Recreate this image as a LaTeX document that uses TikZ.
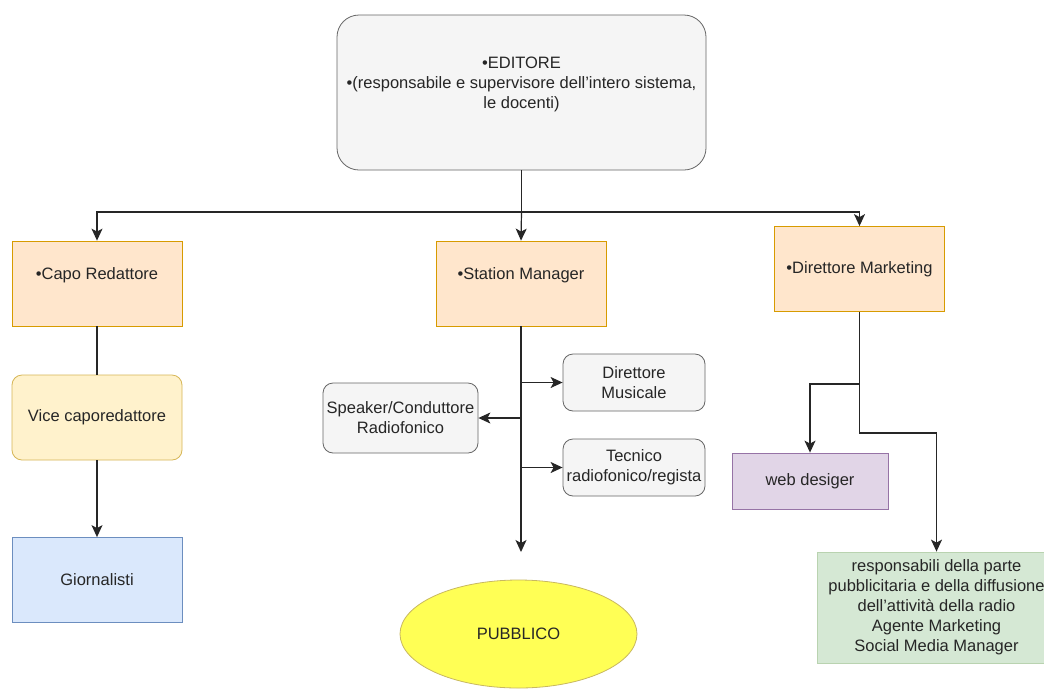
\documentclass[tikz,border=0pt]{standalone}
\usepackage{fontspec}
\setmainfont{Liberation Sans}
\usepackage{tikz}
\usetikzlibrary{shapes.geometric,arrows.meta}
\definecolor{grayfill}{HTML}{F5F5F5}
\definecolor{graydraw}{HTML}{666666}
\definecolor{orangefill}{HTML}{FFE6CC}
\definecolor{orangedraw}{HTML}{D79B00}
\definecolor{yellowfill}{HTML}{FFF2CC}
\definecolor{yellowdraw}{HTML}{D6B656}
\definecolor{bluefill}{HTML}{DAE8FC}
\definecolor{bluedraw}{HTML}{6C8EBF}
\definecolor{purplefill}{HTML}{E1D5E7}
\definecolor{purpledraw}{HTML}{9673A6}
\definecolor{greenfill}{HTML}{D5E8D4}
\definecolor{greendraw}{HTML}{B9D3B0}
\definecolor{pubfill}{HTML}{FFFF55}
\definecolor{pubdraw}{HTML}{C8B860}
\definecolor{txt}{HTML}{262626}
\tikzset{
	box/.style={draw, line width=0.8pt, inner sep=0pt, align=center, text=txt,
		font=\fontsize{16.5}{20}\selectfont},
	graybox/.style={box, fill=grayfill, draw=graydraw, rounded corners=10pt},
	rolebox/.style={box, fill=orangefill, draw=orangedraw, minimum width=170pt, minimum height=85pt},
	link/.style={line width=1.2pt, draw=black!85},
	arr/.style={link, -{Stealth[length=12pt, width=11pt, inset=3pt]}}
}

\begin{document}
\begin{tikzpicture}[x=1pt, y=-1pt]
\useasboundingbox[fill=white] (0,0) rectangle (1044,689);
\node[graybox, rounded corners=22pt, minimum width=369pt, minimum height=155pt] (editore) at (521.5,92.5) {•EDITORE\\•(responsabile e supervisore dell’intero sistema,\\le docenti)\\\mbox{}};

\coordinate (hub) at (521.5,212);

\node[rolebox] (capo) at (97,283.5) {•Capo Redattore\\\mbox{}};
\node[rolebox] (station) at (521,283.5) {•Station Manager\\\mbox{}};
\node[rolebox] (dirmkt) at (859.5,269) {•Direttore Marketing};

\node[box, fill=yellowfill, draw=yellowdraw, rounded corners=10pt, minimum width=170pt, minimum height=85pt] (vice) at (97,417.5) {Vice caporedattore};
\node[box, fill=bluefill, draw=bluedraw, minimum width=170pt, minimum height=85pt] (giorn) at (97,580) {Giornalisti};

\node[graybox, minimum width=142pt, minimum height=57pt] (musicale) at (634,382.5) {Direttore\\Musicale};
\node[graybox, minimum width=155pt, minimum height=70pt] (speaker) at (400.5,418) {Speaker/Conduttore\\Radiofonico};
\node[graybox, minimum width=142pt, minimum height=57pt] (tecnico) at (634,467.5) {Tecnico\\radiofonico/regista};
\node[box, ellipse, fill=pubfill, draw=pubdraw, minimum width=237pt, minimum height=108pt] (pubblico) at (518.5,634) {PUBBLICO};
\coordinate (pubend) at (521,552);

\node[box, fill=purplefill, draw=purpledraw, minimum width=156pt, minimum height=56pt] (web) at (810,481) {web desiger};
\node[box, fill=greenfill, draw=greendraw, minimum width=239pt, minimum height=111pt] (resp) at (936.5,607.5) {responsabili della parte\\pubblicitaria e della diffusione\\dell'attività della radio\\Agente Marketing\\Social Media Manager};

% editore verso i ruoli
\draw[link] (editore.south) -- (hub);
\draw[arr] (hub) -| (capo.north);
\draw[arr] (hub) -- (station.north);
\draw[arr] (hub) -| (dirmkt.north);

% redazione
\draw[link] (capo.south) -- (vice.north);
\draw[arr] (vice.south) -- (giorn.north);

% radio
\draw[arr] (station.south) -- (pubend);
\draw[arr] (station.south |- musicale.west) -- (musicale.west);
\draw[arr] (station.south |- speaker.east) -- (speaker.east);
\draw[arr] (station.south |- tecnico.west) -- (tecnico.west);

% marketing
\draw[arr] (dirmkt.south) -- ++(0,72) -| (web.north);
\draw[arr] (dirmkt.south) -- ++(0,121) -| (resp.north);
\end{tikzpicture}
\end{document}
